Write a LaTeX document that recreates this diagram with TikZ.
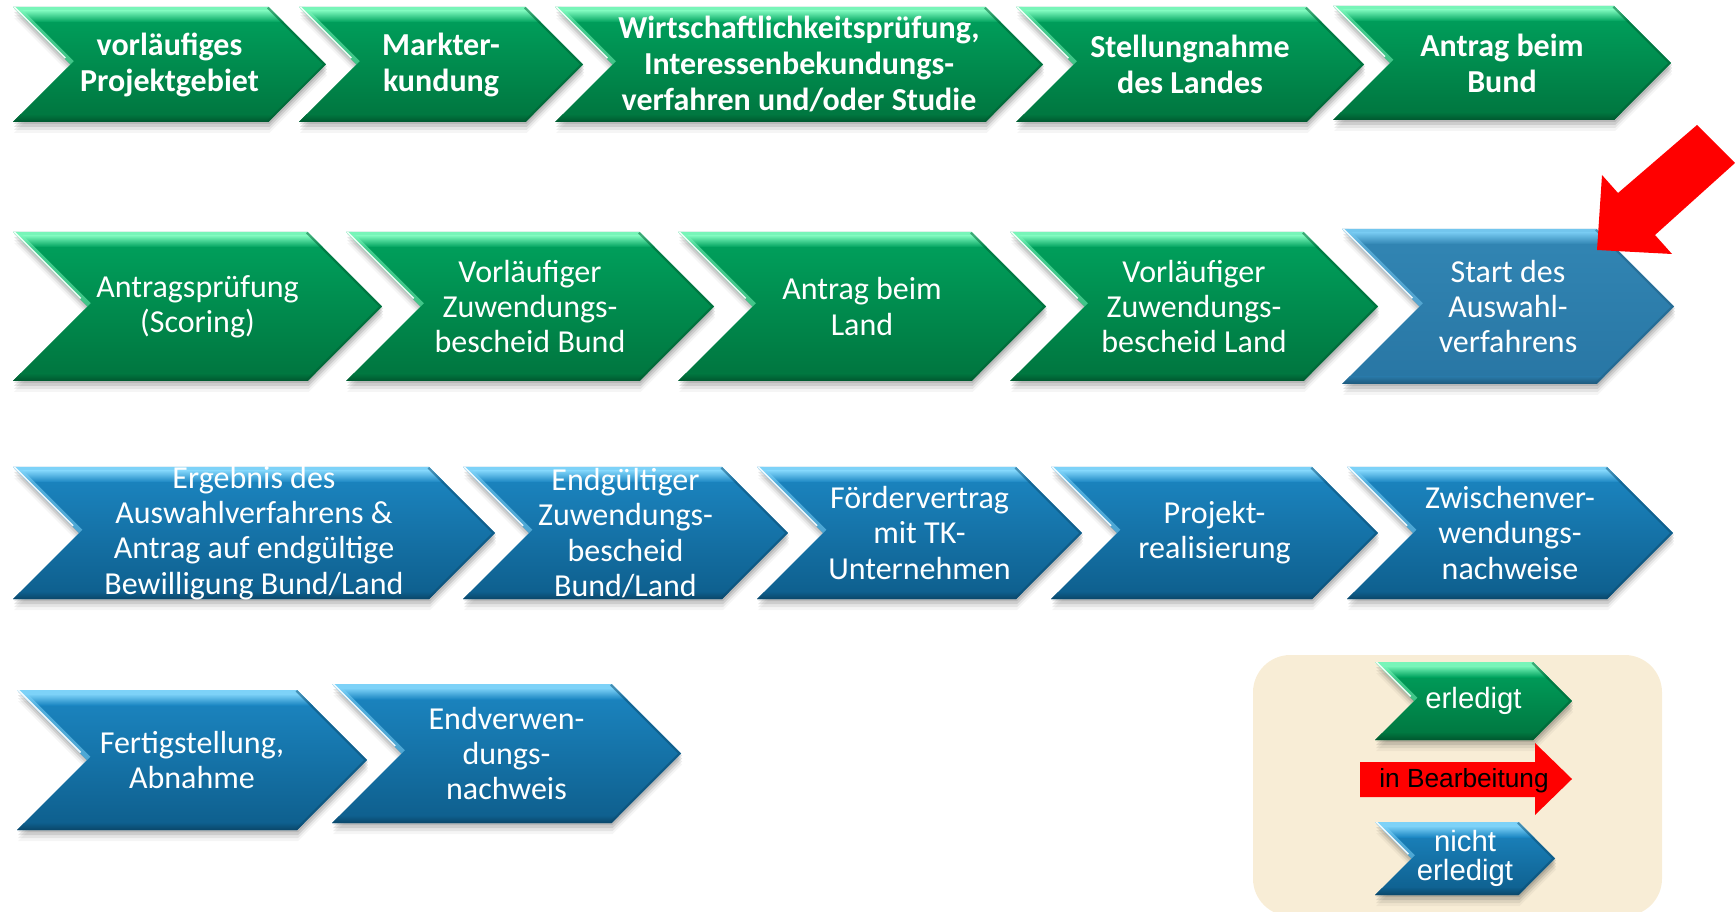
\documentclass[tikz,border=0pt]{standalone}
\usepackage{fontspec}
\setmainfont{Carlito}
\newfontfamily\arialf{Liberation Sans}
\definecolor{gtop}{RGB}{0,163,94}
\definecolor{gbot}{RGB}{0,116,62}
\definecolor{ghl}{RGB}{120,245,185}
\definecolor{btop}{RGB}{28,135,195}
\definecolor{bbot}{RGB}{14,94,140}
\definecolor{bhl}{RGB}{125,210,248}
\definecolor{stop}{RGB}{50,134,180}
\definecolor{sbot}{RGB}{40,118,164}
\definecolor{shl}{RGB}{115,198,238}
\definecolor{legbg}{RGB}{248,237,214}
\definecolor{redc}{RGB}{255,0,0}
\tikzset{
  txt/.style={text=white, align=center, inner sep=0pt, font=\fontsize{24}{26.4}\selectfont},
  txtb/.style={txt, font=\fontsize{24}{27}\selectfont\bfseries},
  txtleg/.style={txt, font=\arialf\fontsize{22}{21.8}\selectfont},
  txtred/.style={txt, text=black, font=\arialf\fontsize{19.7}{21.8}\selectfont},
  curtxt/.style={txtb}
}
% #1 name, #2 xl, #3 xr, #4 ytop, #5 ybot, #6 top colour, #7 bottom colour, #8 highlight, #9 text
\newcommand\mychev[9]{%
  \pgfmathsetmacro\chd{(#5-#4)/2}%
  \pgfmathsetmacro\chm{-(#4+#5)/2}%
  \edef\chpath{(#2,-#4) -- ({#3-\chd},-#4) -- (#3,\chm) -- ({#3-\chd},-#5) -- (#2,-#5) -- ({#2+\chd},\chm) -- cycle}%
  \foreach \s/\o in {2/0.10,5/0.10,8/0.07,11/0.04}{\fill[black,opacity=\o,shift={(1,-\s)}] \chpath;}%
  \shade[top color=#6,bottom color=#7] \chpath;
  \begin{scope}
    \clip \chpath;
    \fill[#8] (#2,-#4) rectangle (#3,{-#4-4});
    \shade[top color=#8,bottom color=#6] (#2,{-#4-4}) rectangle (#3,{-#4-15});
    \shade[top color=#7,bottom color=#7!75!black] (#2,{-#5+7}) rectangle (#3,-#5);
    \draw[#8,line width=7pt,opacity=0.55] (#2,-#4) -- ({#2+\chd},\chm);
    \draw[white,line width=2.6pt,opacity=0.9] (#2,-#4) -- ({#2+\chd*0.9},{\chm+\chd*0.1});
    \draw[#7!80!black,line width=3pt,opacity=0.5] ({#3-\chd},-#4) -- (#3,\chm) -- ({#3-\chd},-#5);
  \end{scope}
  \node[curtxt] (#1) at ({(#2+#3)/2},\chm) {#9};
}
\begin{document}
\begin{tikzpicture}[x=0.75pt,y=0.75pt]
\useasboundingbox (0,0) rectangle (1735,-912);
\clip (0,0) rectangle (1735,-912);
% Row 1
\tikzset{curtxt/.style={txtb}}
\mychev{r1a}{13}{326}{7}{122}{gtop}{gbot}{ghl}{vorläufiges\\Projektgebiet}
\mychev{r1b}{299}{583}{7}{122}{gtop}{gbot}{ghl}{Markter-\\kundung}
\mychev{r1c}{555}{1043}{7}{122}{gtop}{gbot}{ghl}{Wirtschaftlichkeitsprüfung,\\Interessenbekundungs-\\verfahren und/oder Studie}
\mychev{r1d}{1016}{1364}{7}{122}{gtop}{gbot}{ghl}{Stellungnahme\\des Landes}
\mychev{r1e}{1333}{1671}{6}{120}{gtop}{gbot}{ghl}{Antrag beim\\Bund}
% Row 2
\tikzset{curtxt/.style={txt}}
\mychev{r2a}{13}{382}{232}{381}{gtop}{gbot}{ghl}{Antragsprüfung\\(Scoring)}
\mychev{r2b}{346}{714}{232}{381}{gtop}{gbot}{ghl}{Vorläufiger\\Zuwendungs-\\bescheid Bund}
\mychev{r2c}{678}{1046}{232}{381}{gtop}{gbot}{ghl}{Antrag beim\\Land}
\mychev{r2d}{1010}{1378}{232}{381}{gtop}{gbot}{ghl}{Vorläufiger\\Zuwendungs-\\bescheid Land}
\mychev{r2e}{1342}{1674}{229}{384}{stop}{sbot}{shl}{Start des\\Auswahl-\\verfahrens}
% Row 3
\mychev{r3a}{13}{495}{467}{599}{btop}{bbot}{bhl}{Ergebnis des\\Auswahlverfahrens \&\\Antrag auf endgültige\\Bewilligung Bund/Land}
\mychev{r3b}{463}{788}{467}{599}{btop}{bbot}{bhl}{Endgültiger\\Zuwendungs-\\bescheid\\Bund/Land}
\mychev{r3c}{757}{1082}{467}{599}{btop}{bbot}{bhl}{Fördervertrag\\mit TK-\\Unternehmen}
\mychev{r3d}{1051}{1378}{467}{599}{btop}{bbot}{bhl}{Projekt-\\realisierung}
\mychev{r3e}{1347}{1673}{467}{599}{btop}{bbot}{bhl}{Zwischenver-\\wendungs-\\nachweise}
% Row 4
\mychev{r4a}{17}{367}{690}{830}{btop}{bbot}{bhl}{Fertigstellung,\\Abnahme}
\mychev{r4b}{332}{681}{684}{823}{btop}{bbot}{bhl}{Endverwen-\\dungs-\\nachweis}
% big red arrow
\fill[redc] (1597,-250) -- (1602,-175) -- (1618,-193) -- (1697,-125) -- (1735,-163) -- (1655,-235) -- (1672,-254) -- cycle;
% legend
\fill[legbg,rounded corners=28pt] (1253,-655) rectangle (1662,-916);
\tikzset{curtxt/.style={txtleg}}
\mychev{lg1}{1375}{1572}{662}{740}{gtop}{gbot}{ghl}{erledigt}
\fill[redc] (1360,-762) -- (1535,-762) -- (1535,-743) -- (1572,-779) -- (1535,-815) -- (1535,-797) -- (1360,-797) -- cycle;
\node[txtred] (lg2) at (1464,-781) {in Bearbeitung};
\mychev{lg3}{1375}{1555}{822}{895}{btop}{bbot}{bhl}{nicht\\erledigt}
\end{tikzpicture}
\end{document}
